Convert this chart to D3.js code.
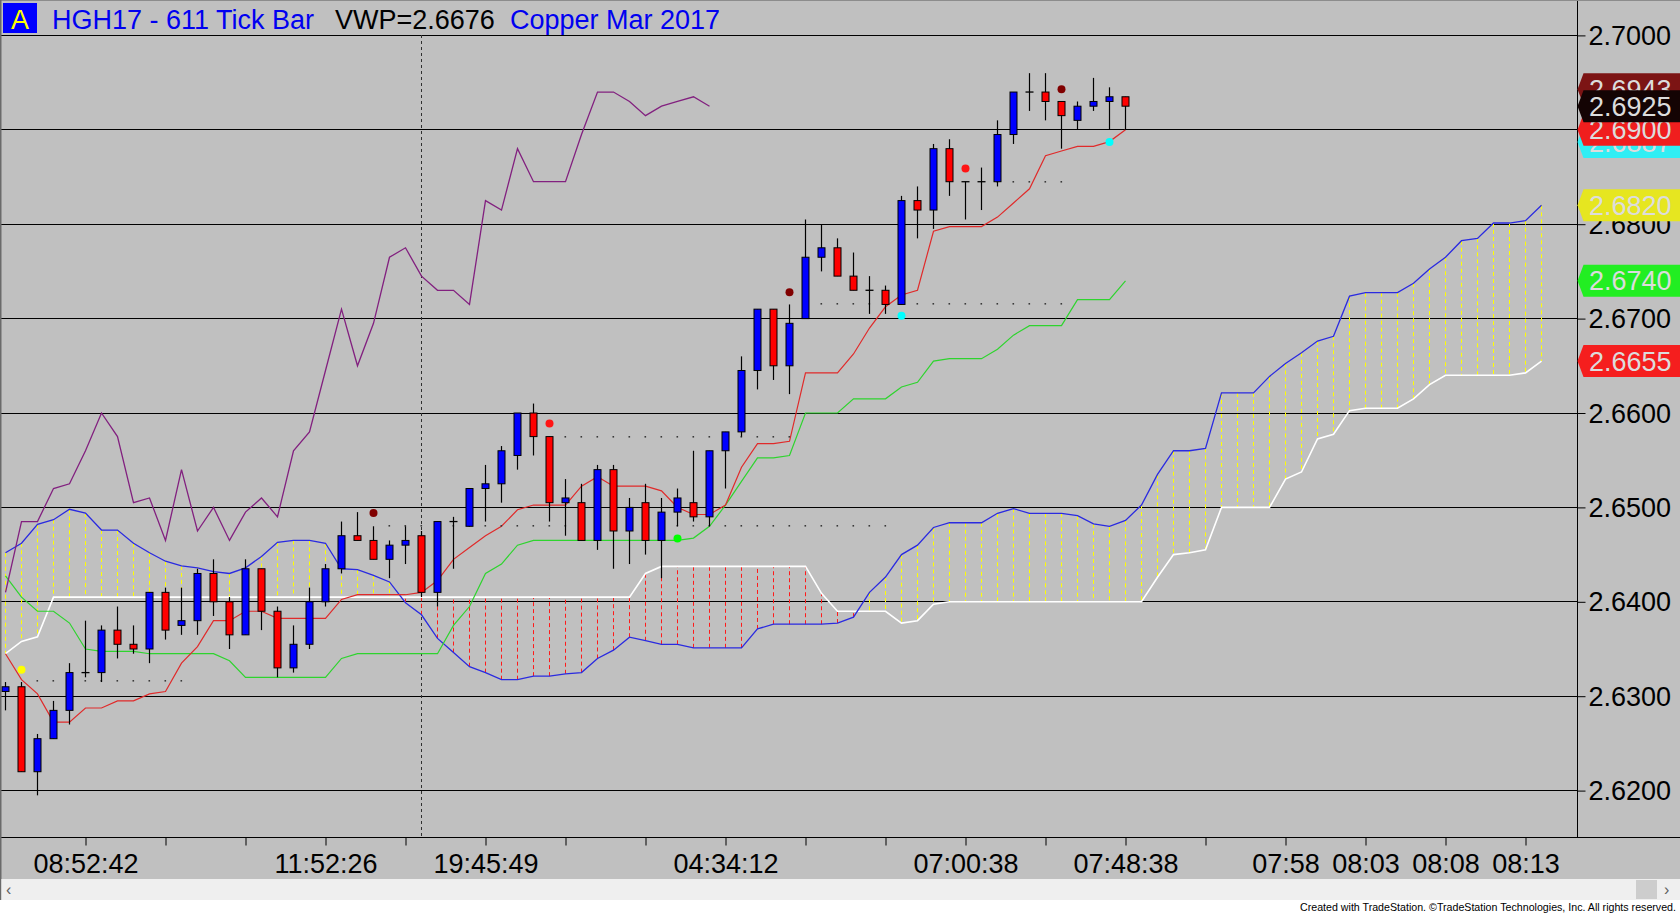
<!DOCTYPE html>
<html><head><meta charset="utf-8">
<script src="https://cdn.jsdelivr.net/npm/d3@7"></script>
<style>
html,body{margin:0;padding:0;background:#fff;overflow:hidden}
svg{display:block;font-family:"Liberation Sans",Arial,sans-serif}
</style>
</head><body>
<svg id="c" width="1680" height="915"></svg>
<script>
// ---------------- DATA ----------------
const opens = [2.6305,2.6310,2.6220,2.6255,2.6285,2.6325,2.6325,2.6370,2.6355,2.6350,
 2.6410,2.6375,2.6380,2.6430,2.6400,2.6365,2.6435,2.6390,2.6330,2.6355,
 2.6400,2.6435,2.6470,2.6465,2.6445,2.6460,2.6470,2.6410,2.6485,2.6480,
 2.6520,2.6525,2.6555,2.6600,2.6575,2.6505,2.6505,2.6465,2.6540,2.6475,
 2.6505,2.6465,2.6495,2.6505,2.6490,2.6560,2.6580,2.6645,2.6710,2.6650,
 2.6700,2.6765,2.6775,2.6745,2.6730,2.6730,2.6715,2.6825,2.6815,2.6880,
 2.6845,2.6845,2.6845,2.6895,2.6940,2.6940,2.6930,2.6910,2.6925,2.6930,
 2.6935];
const highs = [2.6315,2.6315,2.6260,2.6295,2.6335,2.6380,2.6375,2.6395,2.6375,2.6410,
 2.6415,2.6415,2.6435,2.6445,2.6405,2.6445,2.6435,2.6395,2.6375,2.6415,
 2.6440,2.6485,2.6495,2.6480,2.6465,2.6480,2.6475,2.6485,2.6490,2.6520,
 2.6545,2.6565,2.6600,2.6610,2.6575,2.6530,2.6525,2.6545,2.6545,2.6510,
 2.6525,2.6510,2.6520,2.6560,2.6560,2.6580,2.6660,2.6710,2.6710,2.6715,
 2.6805,2.6800,2.6785,2.6770,2.6745,2.6735,2.6830,2.6840,2.6885,2.6890,
 2.6845,2.6860,2.6910,2.6940,2.6960,2.6960,2.6930,2.6930,2.6955,2.6945,
 2.6935];
const lows = [2.6285,2.6220,2.6195,2.6255,2.6270,2.6320,2.6315,2.6340,2.6345,2.6335,
 2.6360,2.6365,2.6365,2.6385,2.6350,2.6365,2.6370,2.6320,2.6325,2.6350,
 2.6395,2.6430,2.6465,2.6445,2.6425,2.6440,2.6405,2.6395,2.6435,2.6480,
 2.6485,2.6505,2.6540,2.6555,2.6485,2.6470,2.6465,2.6455,2.6435,2.6440,
 2.6450,2.6425,2.6480,2.6485,2.6480,2.6520,2.6575,2.6625,2.6635,2.6620,
 2.6700,2.6750,2.6745,2.6730,2.6705,2.6705,2.6715,2.6785,2.6795,2.6830,
 2.6805,2.6815,2.6840,2.6885,2.6920,2.6910,2.6880,2.6900,2.6920,2.6900,
 2.6900];
const closes = [2.6310,2.6220,2.6255,2.6285,2.6325,2.6325,2.6370,2.6355,2.6350,2.6410,
 2.6370,2.6380,2.6430,2.6400,2.6365,2.6435,2.6390,2.6330,2.6355,2.6400,
 2.6435,2.6470,2.6465,2.6445,2.6460,2.6465,2.6410,2.6485,2.6485,2.6520,
 2.6525,2.6560,2.6600,2.6575,2.6505,2.6510,2.6465,2.6540,2.6475,2.6500,
 2.6465,2.6495,2.6510,2.6490,2.6560,2.6580,2.6645,2.6710,2.6650,2.6695,
 2.6765,2.6775,2.6745,2.6730,2.6730,2.6715,2.6825,2.6815,2.6880,2.6845,
 2.6845,2.6845,2.6895,2.6940,2.6940,2.6930,2.6915,2.6925,2.6930,2.6935,
 2.6925];

// Tenkan (red line), bars 0..70
const tenkan = [2.6345,2.63175,2.63025,2.62725,2.62725,2.62875,2.62875,2.6295,2.6295,2.63025,
 2.6305,2.6335,2.63525,2.6380,2.6380,2.6390,2.6390,2.63825,2.63825,2.63825,
 2.63825,2.64025,2.64075,2.64075,2.64075,2.64075,2.6410,2.64225,2.6445,2.64575,
 2.6470,2.6480,2.64975,2.65025,2.65025,2.65025,2.65225,2.65325,2.65225,2.65225,
 2.65225,2.65175,2.6500,2.64925,2.64925,2.65025,2.65425,2.65675,2.65675,2.6570,
 2.66425,2.66425,2.66425,2.66625,2.6690,2.67125,2.6725,2.6730,2.67925,2.67975,
 2.67975,2.67975,2.68075,2.68225,2.68375,2.68725,2.68775,2.68825,2.68825,2.68875,
 2.6900];
// Kijun (green line), bars 0..70
const kijun = [2.64275,2.6405,2.6390,2.6390,2.63775,2.6350,2.63475,2.63475,2.63475,2.6345,
 2.6345,2.6345,2.6345,2.6345,2.63375,2.6320,2.6320,2.6320,2.6320,2.6320,
 2.6320,2.6340,2.6345,2.6345,2.6345,2.6345,2.6345,2.6345,2.6375,2.6395,
 2.6430,2.6440,2.6460,2.6465,2.6465,2.6465,2.6465,2.6465,2.6465,2.6465,
 2.6465,2.6465,2.6465,2.64675,2.6480,2.65025,2.65275,2.65525,2.65525,2.6555,
 2.6600,2.6600,2.6600,2.6615,2.6615,2.6615,2.66275,2.66325,2.6655,2.66575,
 2.66575,2.66575,2.66675,2.66825,2.66925,2.66925,2.66925,2.6720,2.6720,2.6720,
 2.6740];
// Lagging line (purple), bars 0..44
const lagging = [2.6410,2.6485,2.6485,2.6520,2.6525,2.6560,2.6600,2.6575,2.6505,2.6510,
 2.6465,2.6540,2.6475,2.6500,2.6465,2.6495,2.6510,2.6490,2.6560,2.6580,
 2.6645,2.6710,2.6650,2.6695,2.6765,2.6775,2.6745,2.6730,2.6730,2.6715,
 2.6825,2.6815,2.6880,2.6845,2.6845,2.6845,2.6895,2.6940,2.6940,2.6930,
 2.6915,2.6925,2.6930,2.6935,2.6925];
// Cloud leading span A (blue), bars 0..96
const spanA = [2.6452,2.6462,2.6482,2.6487,2.6498,2.6494,2.6476,2.6476,2.6462,2.6452,
 2.6443,2.6438,2.6436,2.6432,2.6430,2.6436,2.6448,2.6463,2.6465,2.6465,
 2.6462,2.6435,2.6434,2.6428,2.6421,2.6399,2.638625,2.636125,2.634625,2.633125,
 2.6325,2.63175,2.63175,2.632125,2.632125,2.632375,2.6325,2.6340,2.634875,2.63625,
 2.635875,2.6355,2.6355,2.635125,2.635125,2.635125,2.635125,2.637125,2.637625,2.637625,
 2.637625,2.637625,2.63775,2.638375,2.6410,2.642625,2.6450,2.6460,2.647875,2.648375,
 2.648375,2.648375,2.649375,2.649875,2.649375,2.649375,2.649375,2.649125,2.64825,2.6480,
 2.648625,2.65025,2.6535,2.6560,2.6560,2.65625,2.662125,2.662125,2.662125,2.663875,
 2.66525,2.666375,2.667625,2.668125,2.672375,2.67275,2.67275,2.67275,2.67375,2.67525,
 2.6765,2.67825,2.6785,2.680125,2.680125,2.680375,2.6820];
// Cloud leading span B (white), bars 0..96
const spanB = [2.6345,2.6358,2.6363,2.6405,2.6405,2.6405,2.6405,2.6405,2.6405,2.6405,
 2.6405,2.6405,2.6405,2.6405,2.6405,2.6405,2.6405,2.6405,2.6405,2.6405,
 2.6405,2.6405,2.6405,2.6405,2.6405,2.6405,2.6405,2.6405,2.6405,2.6405,
 2.6405,2.6405,2.6405,2.6405,2.6405,2.6405,2.6405,2.6405,2.6405,2.6405,
 2.6430,2.64375,2.64375,2.64375,2.64375,2.64375,2.64375,2.64375,2.64375,2.64375,
 2.64375,2.6409,2.6390,2.6390,2.6390,2.6390,2.63775,2.6380,2.63975,2.6400,
 2.6400,2.6400,2.6400,2.6400,2.6400,2.6400,2.6400,2.6400,2.6400,2.6400,
 2.6400,2.6400,2.6426,2.6450,2.6452,2.6455,2.6500,2.6500,2.6500,2.6500,
 2.6530,2.65375,2.65725,2.65775,2.66025,2.6605,2.6605,2.6605,2.6615,2.6630,
 2.6640,2.6640,2.6640,2.6640,2.6640,2.66425,2.6655];

// Signal dots
const sigBars   = [1, 23, 34, 42, 49, 56, 60, 66, 69];
const sigPrices = [2.6328, 2.6494, 2.6589, 2.6467, 2.6728, 2.6703, 2.6859, 2.6943, 2.6887];
const sigColors = ["#ffff00","#800000","#ff1414","#00ff00","#800000","#00ffff","#ff1414","#800000","#00ffff"];

// Dotted level markers: price, first bar, last bar
const levelPrices = [2.6316, 2.6480, 2.6575, 2.6715, 2.6845];
const levelFrom   = [2, 24, 35, 50, 62];
const levelTo     = [11, 55, 49, 66, 66];

// Axis ticks
const priceTicks = [2.62, 2.63, 2.64, 2.65, 2.66, 2.67, 2.68, 2.69, 2.70];
const timeTickBars = [5,10,15,20,25,30,35,40,45,50,55,60,65,70,75,80,85,90,95];
const timeLabelBars = [5, 20, 30, 45, 60, 70, 80, 85, 90, 95];
const timeLabels = ["08:52:42","11:52:26","19:45:49","04:34:12","07:00:38","07:48:38","07:58","08:03","08:08","08:13"];
const sessionBreakBar = 26;

// Right-hand price markers (drawn in this order)
const markerPrices = [2.6887, 2.6900, 2.6943, 2.6925, 2.6820, 2.6740, 2.6655];
const markerColors = ["#30eef4","#f01e1e","#7c1414","#140404","#e6e620","#22ee22","#f51e1e"];

// ---------------- DRAWING ----------------
const svg = d3.select("#c");
const W = 1680, PR = 1577.5, AX = 837.5;
const x = d3.scaleLinear().domain([0, 96]).range([5.5, 5.5 + 16 * 96]);
const y = d3.scaleLinear().domain([2.62, 2.70]).range([790.6, 35.4]);
const cy = p => Math.floor(y(p)) + 0.5;

svg.append("rect").attr("width", W).attr("height", 915).attr("fill", "#ffffff");
svg.append("rect").attr("width", W).attr("height", 879).attr("fill", "#c0c0c0");

// grid
svg.append("g").selectAll("line").data(priceTicks).join("line")
  .attr("x1", 0).attr("x2", PR).attr("y1", d => cy(d)).attr("y2", d => cy(d))
  .attr("stroke", "#000").attr("stroke-width", 1);

// session break
svg.append("line").attr("x1", x(sessionBreakBar)).attr("x2", x(sessionBreakBar))
  .attr("y1", 35).attr("y2", AX).attr("stroke", "#303030").attr("stroke-width", 1)
  .attr("stroke-dasharray", "3,3");

// cloud fill (dashed verticals)
const cloudIdx = d3.range(spanA.length);
svg.append("g").selectAll("line").data(cloudIdx).join("line")
  .attr("x1", i => x(i)).attr("x2", i => x(i))
  .attr("y1", i => y(spanA[i])).attr("y2", i => y(spanB[i]))
  .attr("stroke", i => spanA[i] >= spanB[i] ? "#ffff00" : "#ff1a1a")
  .attr("stroke-width", 1).attr("stroke-dasharray", "4,3");

const line = d3.line().x((d, i) => x(i)).y(d => y(d));
svg.append("path").datum(spanB).attr("d", line).attr("fill", "none").attr("stroke", "#ffffff").attr("stroke-width", 1.6);
svg.append("path").datum(spanA).attr("d", line).attr("fill", "none").attr("stroke", "#2a2ae0").attr("stroke-width", 1.3);
svg.append("path").datum(kijun).attr("d", line).attr("fill", "none").attr("stroke", "#2ed42e").attr("stroke-width", 1.2);
svg.append("path").datum(tenkan).attr("d", line).attr("fill", "none").attr("stroke", "#e02a2a").attr("stroke-width", 1.2);
svg.append("path").datum(lagging).attr("d", line).attr("fill", "none").attr("stroke", "#82207f").attr("stroke-width", 1.3);

// dotted level markers
levelPrices.forEach((p, k) => {
  svg.append("g").selectAll("rect").data(d3.range(levelFrom[k], levelTo[k] + 1)).join("rect")
    .attr("x", i => x(i) - 1).attr("y", Math.round(y(p)) - 1).attr("width", 1.6).attr("height", 1.6)
    .attr("fill", "#3a3a3a");
});

// candles
const bars = d3.range(closes.length);
const cg = svg.append("g");
cg.selectAll("line.w").data(bars).join("line").attr("class", "w")
  .attr("x1", i => x(i)).attr("x2", i => x(i))
  .attr("y1", i => y(highs[i])).attr("y2", i => y(lows[i]))
  .attr("stroke", "#000").attr("stroke-width", 1.2);
cg.selectAll("rect").data(bars.filter(i => opens[i] !== closes[i])).join("rect")
  .attr("x", i => x(i) - 3.5)
  .attr("y", i => y(Math.max(opens[i], closes[i])))
  .attr("width", 7)
  .attr("height", i => Math.max(1, y(Math.min(opens[i], closes[i])) - y(Math.max(opens[i], closes[i]))))
  .attr("fill", i => closes[i] > opens[i] ? "#0000ff" : "#ff0000")
  .attr("stroke", "#000").attr("stroke-width", 1);
cg.selectAll("line.x").data(bars.filter(i => opens[i] === closes[i])).join("line").attr("class", "x")
  .attr("x1", i => x(i) - 4).attr("x2", i => x(i) + 4)
  .attr("y1", i => y(opens[i])).attr("y2", i => y(opens[i]))
  .attr("stroke", "#000").attr("stroke-width", 1.3);

// signal dots
svg.append("g").selectAll("circle").data(sigBars).join("circle")
  .attr("cx", d => x(d)).attr("cy", (d, k) => y(sigPrices[k])).attr("r", 4)
  .attr("fill", (d, k) => sigColors[k]);

// axes frame
svg.append("line").attr("x1", PR).attr("x2", PR).attr("y1", 0).attr("y2", AX).attr("stroke", "#000");
svg.append("line").attr("x1", 0).attr("x2", W).attr("y1", AX).attr("y2", AX).attr("stroke", "#000");

// bottom time axis
const xAxis = d3.axisBottom(x).tickValues(timeTickBars).tickSize(8)
  .tickFormat(d => { const k = timeLabelBars.indexOf(d); return k >= 0 ? timeLabels[k] : ""; });
const gx = svg.append("g").attr("transform", `translate(0,${AX})`).call(xAxis);
gx.select(".domain").remove();
gx.selectAll("line").attr("stroke", "#000");
gx.selectAll("text").attr("y", 16).attr("fill", "#000")
  .style("font-size", "27px").style("font-family", '"Liberation Sans",Arial,sans-serif');

// right price axis
const yAxis = d3.axisRight(y).tickValues(priceTicks).tickSize(8).tickFormat(d3.format(".4f"));
const gy = svg.append("g").attr("transform", `translate(${PR},0)`).call(yAxis);
gy.select(".domain").remove();
gy.selectAll("line").attr("stroke", "#000");
gy.selectAll("text").attr("x", 11).attr("dy", "0.34em").attr("fill", "#000")
  .style("font-size", "27px").style("font-family", '"Liberation Sans",Arial,sans-serif');

// price markers
const mg = svg.append("g");
markerPrices.forEach((p, k) => {
  const c = y(p);
  mg.append("path")
    .attr("d", `M${PR},${c} L${PR + 6},${c - 16} L${W},${c - 16} L${W},${c + 16} L${PR + 6},${c + 16} Z`)
    .attr("fill", markerColors[k]);
  mg.append("text").attr("x", 1589).attr("y", c + 9.6).text(d3.format(".4f")(p))
    .attr("fill", "#dcdcdc").style("font-size", "27px");
});

// title
svg.append("rect").attr("x", 3).attr("y", 3).attr("width", 34).attr("height", 30).attr("fill", "#0000ff");
svg.append("text").attr("x", 20).attr("y", 28.5).attr("text-anchor", "middle").attr("fill", "#ffff00")
  .style("font-size", "27px").text("A");
svg.append("text").attr("x", 52).attr("y", 28.5).attr("fill", "#0000f0").style("font-size", "27px").text("HGH17 - 611 Tick Bar");
svg.append("text").attr("x", 335).attr("y", 28.5).attr("fill", "#000").style("font-size", "27px").text("VWP=2.6676");
svg.append("text").attr("x", 510).attr("y", 28.5).attr("fill", "#0000f0").style("font-size", "27px").text("Copper Mar 2017");

// borders
svg.append("line").attr("x1", 0).attr("x2", W).attr("y1", 0.5).attr("y2", 0.5).attr("stroke", "#8c8c8c");
svg.append("line").attr("x1", 0.75).attr("x2", 0.75).attr("y1", 0).attr("y2", 900).attr("stroke", "#6a6a6a").attr("stroke-width", 1.5);

// scrollbar
svg.append("rect").attr("x", 1.5).attr("y", 879).attr("width", W - 1.5).attr("height", 21).attr("fill", "#efefef");
svg.append("text").attr("x", 6).attr("y", 895).attr("fill", "#606060").style("font-size", "16px").text("\u2039");
svg.append("rect").attr("x", 1636).attr("y", 880).attr("width", 21).attr("height", 19).attr("fill", "#cdcdcd");
svg.append("text").attr("x", 1664).attr("y", 895).attr("fill", "#606060").style("font-size", "16px").text("\u203A");

// footer
svg.append("text").attr("x", 1676).attr("y", 911).attr("text-anchor", "end").attr("fill", "#000")
  .attr("textLength", 376).attr("lengthAdjust", "spacingAndGlyphs")
  .style("font-size", "11.5px").text("Created with TradeStation. \u00A9TradeStation Technologies, Inc. All rights reserved.");
</script>
</body></html>
